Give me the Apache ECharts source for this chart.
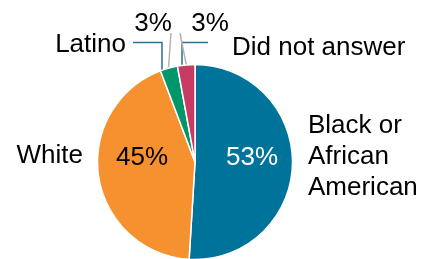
<!DOCTYPE html>
<html lang="en">
<head>
    <meta charset="UTF-8">
    <script src="https://cdn.jsdelivr.net/npm/echarts@6/dist/echarts.min.js"></script>
    <title>Pie</title>
    <style>
        html, body {margin: 0; padding: 0; background: #fff;}
    </style>
</head>
<body>

<div id="chart" style="width: 425px; height: 259px;"></div>

<script>
    // data
    var categories = ['Black or\nAfrican\nAmerican', 'White', 'Latino', 'Did not answer'];
    var shares = [53, 45, 3, 3];

    var colors = ['#00739a', '#f5912f', '#00966c', '#c73a62'];
    var font = "'Liberation Sans', Arial, sans-serif";

    var myChart = echarts.init(document.getElementById('chart'));

    var pieData = shares.map(function (v, i) {
        return {name: categories[i], value: v, itemStyle: {color: colors[i]}};
    });

    // label spots: [x, y, align]
    var pctSpot = [[252, 158, 'center'], [142, 158, 'center'], [153, 24, 'center'], [210, 24, 'center']];
    var nameSpot = [[308, 157, 'left'], [83, 156, 'right'], [126, 45, 'right'], [232, 48, 'left']];
    // grey lines from the 3% labels, teal lines from the names
    var pctLines = {2: [[171, 33], [168.5, 68]], 3: [[180, 33], [186.5, 66]]};
    var nameLines = {2: [[133, 42.5], [162, 42.5], [162, 70]], 3: [[208, 42.5], [182, 42.5], [182, 66]]};

    myChart.setOption({
        animation: false,
        series: [
            {
                type: 'pie',
                center: [195, 162],
                radius: 97.5,
                startAngle: 90,
                clockwise: true,
                avoidLabelOverlap: false,
                silent: true,
                itemStyle: {borderColor: '#fff', borderWidth: 1.5},
                label: {
                    show: true,
                    fontFamily: font,
                    fontSize: 26,
                    color: '#000',
                    formatter: function (p) {
                        return shares[p.dataIndex] + '%';
                    }
                },
                labelLine: {show: true, lineStyle: {color: '#b4b4b4', width: 1.5}},
                labelLayout: function (p) {
                    var s = pctSpot[p.dataIndex];
                    var out = {x: s[0], y: s[1], align: s[2], verticalAlign: 'middle'};
                    if (pctLines[p.dataIndex]) out.labelLinePoints = pctLines[p.dataIndex];
                    return out;
                },
                data: pieData.map(function (d, i) {
                    var item = {name: d.name, value: d.value, itemStyle: d.itemStyle};
                    if (i < 2) {
                        item.label = {position: 'inside', color: i === 0 ? '#fff' : '#000'};
                        item.labelLine = {show: false};
                    }
                    return item;
                })
            },
            {
                type: 'pie',
                center: [195, 162],
                radius: 97.5,
                startAngle: 90,
                clockwise: true,
                avoidLabelOverlap: false,
                silent: true,
                z: 1,
                itemStyle: {color: 'rgba(0,0,0,0)', borderWidth: 0},
                label: {
                    show: true,
                    position: 'outside',
                    fontFamily: font,
                    fontSize: 26,
                    lineHeight: 31,
                    color: '#000',
                    formatter: '{b}'
                },
                labelLine: {show: true, lineStyle: {color: '#2b7391', width: 1.5}},
                labelLayout: function (p) {
                    var s = nameSpot[p.dataIndex];
                    var out = {x: s[0], y: s[1], align: s[2], verticalAlign: 'middle'};
                    if (nameLines[p.dataIndex]) out.labelLinePoints = nameLines[p.dataIndex];
                    return out;
                },
                data: pieData.map(function (d, i) {
                    var item = {name: d.name, value: d.value};
                    if (i < 2) item.labelLine = {show: false};
                    return item;
                })
            }
        ]
    });
</script>

</body>
</html>
